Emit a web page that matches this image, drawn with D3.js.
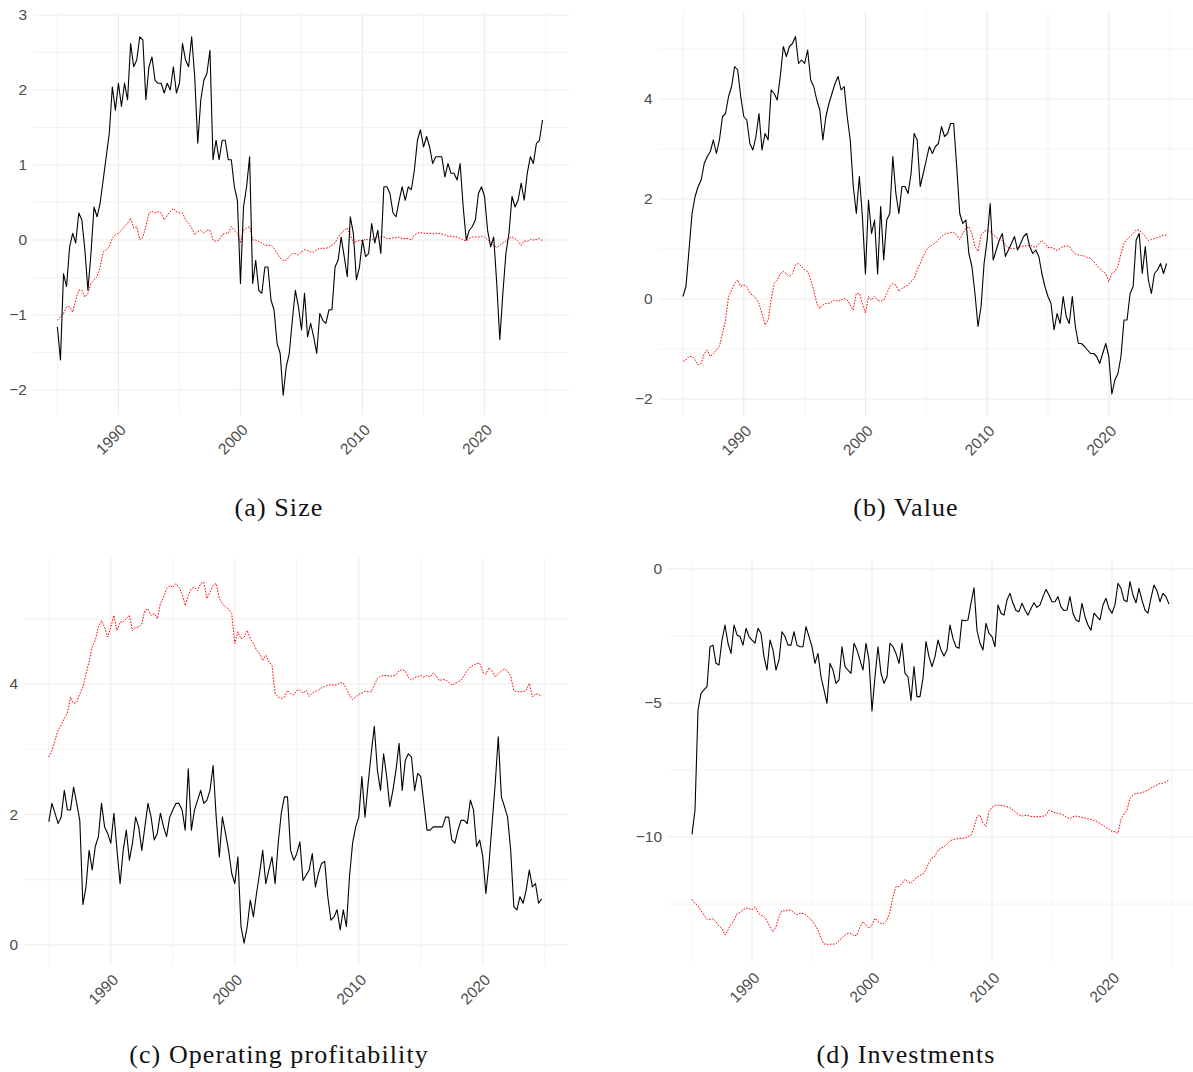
<!DOCTYPE html>
<html>
<head>
<meta charset="utf-8">
<script src="https://cdn.jsdelivr.net/npm/d3@7"></script>
<style>
  body { margin: 0; background: #fff; }
  svg { display: block; }
</style>
</head>
<body>
<svg id="chart" width="1193" height="1072"></svg>
<script>
// quarterly readings, 1985Q1 .. 2024Q4 (two years per row)
var startYear = 1985;
var stepYears = 0.25;
var xMajor = [1990, 2000, 2010, 2020];
var xDomain = [1983.0, 2026.92];

var sizeSolid = [
  -1.16, -1.60, -0.45, -0.62, -0.09, 0.09, -0.04, 0.36,
  0.27, -0.13, -0.67, -0.18, 0.44, 0.31, 0.49, 0.80,
  1.11, 1.42, 2.04, 1.73, 2.09, 1.78, 2.09, 1.87,
  2.62, 2.31, 2.40, 2.71, 2.67, 1.87, 2.31, 2.44,
  2.13, 2.09, 2.09, 1.96, 2.09, 2.00, 2.31, 1.96,
  2.09, 2.62, 2.40, 2.31, 2.71, 2.18, 1.29, 1.87,
  2.13, 2.22, 2.53, 1.07, 1.33, 1.07, 1.33, 1.33,
  1.07, 1.07, 0.71, 0.53, -0.58, 0.44, 0.71, 1.11,
  -0.58, -0.27, -0.67, -0.71, -0.36, -0.36, -0.80, -0.93,
  -1.38, -1.51, -2.07, -1.69, -1.51, -1.07, -0.67, -0.89,
  -1.20, -0.71, -1.29, -1.11, -1.29, -1.51, -0.98, -1.07,
  -1.11, -0.93, -0.93, -0.36, -0.27, 0.04, -0.22, -0.49,
  0.31, 0.09, -0.53, -0.36, 0.00, -0.22, -0.18, 0.22,
  -0.04, 0.13, -0.18, 0.71, 0.71, 0.62, 0.36, 0.31,
  0.53, 0.71, 0.53, 0.71, 0.67, 0.93, 1.33, 1.47,
  1.24, 1.38, 1.24, 1.02, 1.11, 1.11, 1.11, 0.84,
  1.02, 0.89, 0.89, 0.80, 1.02, 0.44, 0.00, 0.13,
  0.18, 0.27, 0.62, 0.71, 0.58, 0.13, -0.09, 0.04,
  -0.58, -1.33, -0.71, -0.18, 0.09, 0.58, 0.44, 0.53,
  0.76, 0.53, 0.89, 1.11, 1.02, 1.29, 1.33, 1.60
];

var sizeDotted = [
  -1.07, -1.02, -0.98, -0.89, -0.89, -0.96, -0.80, -0.67,
  -0.67, -0.76, -0.71, -0.58, -0.53, -0.49, -0.36, -0.16,
  -0.13, -0.09, 0.02, 0.07, 0.09, 0.13, 0.18, 0.22,
  0.29, 0.16, 0.18, 0.00, 0.04, 0.18, 0.36, 0.38,
  0.36, 0.38, 0.36, 0.27, 0.33, 0.38, 0.42, 0.38,
  0.36, 0.36, 0.27, 0.22, 0.16, 0.07, 0.11, 0.13,
  0.09, 0.13, 0.13, 0.00, -0.02, 0.00, 0.07, 0.09,
  0.09, 0.18, 0.13, 0.09, -0.04, 0.13, 0.16, 0.18,
  0.00, 0.00, -0.02, -0.04, -0.07, -0.07, -0.07, -0.11,
  -0.18, -0.24, -0.27, -0.27, -0.22, -0.18, -0.18, -0.20,
  -0.16, -0.13, -0.14, -0.16, -0.16, -0.13, -0.11, -0.11,
  -0.11, -0.10, -0.07, -0.04, 0.04, 0.09, 0.13, 0.16,
  0.07, -0.04, -0.02, 0.00, -0.01, 0.01, 0.00, 0.00,
  0.02, 0.04, 0.04, 0.04, 0.02, 0.02, 0.03, 0.03,
  0.04, 0.02, 0.02, 0.02, 0.00, 0.07, 0.09, 0.10,
  0.09, 0.09, 0.09, 0.08, 0.09, 0.09, 0.08, 0.07,
  0.05, 0.05, 0.04, 0.04, 0.02, 0.00, -0.01, 0.02,
  0.04, 0.04, 0.04, 0.05, 0.04, 0.00, -0.02, -0.07,
  -0.10, -0.07, -0.04, -0.02, 0.02, 0.04, 0.02, -0.02,
  -0.07, -0.01, -0.02, 0.01, 0.00, 0.01, 0.02, -0.01
];

var valueSolid = [
  0.05, 0.25, 0.98, 1.71, 2.05, 2.25, 2.38, 2.71,
  2.85, 2.95, 3.18, 2.91, 3.18, 3.65, 3.71, 4.05,
  4.25, 4.65, 4.58, 4.05, 3.65, 3.58, 3.11, 2.98,
  3.25, 3.71, 2.98, 3.31, 3.18, 4.18, 4.11, 3.98,
  4.45, 5.05, 4.85, 5.05, 5.11, 5.25, 4.71, 4.78,
  4.71, 4.98, 4.38, 4.25, 3.98, 3.78, 3.18, 3.65,
  3.91, 4.11, 4.31, 4.45, 4.18, 4.25, 3.65, 3.18,
  2.25, 1.71, 2.45, 1.65, 0.50, 1.98, 1.31, 1.58,
  0.50, 1.85, 0.78, 1.58, 1.71, 2.85, 2.11, 1.71,
  2.25, 2.25, 2.11, 2.51, 3.31, 3.18, 2.25, 2.51,
  2.78, 3.05, 2.91, 3.05, 3.11, 3.45, 3.25, 3.31,
  3.51, 3.51, 2.65, 1.71, 1.51, 1.58, 0.91, 0.65,
  0.11, -0.55, -0.15, 0.71, 1.18, 1.91, 0.78, 0.98,
  1.18, 1.31, 0.85, 0.98, 1.11, 1.25, 0.98, 1.11,
  1.25, 1.31, 1.05, 0.91, 0.98, 0.85, 0.51, 0.25,
  0.05, -0.09, -0.62, -0.29, -0.49, 0.05, -0.35, -0.49,
  0.05, -0.55, -0.89, -0.89, -0.95, -1.02, -1.09, -1.09,
  -1.15, -1.29, -1.09, -0.89, -1.15, -1.90, -1.62, -1.49,
  -1.15, -0.42, -0.42, 0.11, 0.25, 1.18, 1.31, 0.51,
  1.05, 0.38, 0.11, 0.51, 0.58, 0.71, 0.51, 0.71
];

var valueDotted = [
  -1.25, -1.22, -1.15, -1.15, -1.22, -1.32, -1.29, -1.09,
  -1.02, -1.15, -1.09, -1.02, -0.95, -0.69, -0.42, 0.05,
  0.18, 0.31, 0.38, 0.25, 0.28, 0.25, 0.11, 0.08,
  0.01, -0.09, -0.29, -0.52, -0.42, -0.02, 0.31, 0.38,
  0.51, 0.55, 0.51, 0.45, 0.51, 0.68, 0.71, 0.65,
  0.58, 0.55, 0.38, 0.18, -0.09, -0.19, -0.12, -0.09,
  -0.09, -0.05, -0.02, -0.05, -0.02, 0.01, -0.02, -0.12,
  -0.22, 0.11, 0.11, -0.09, -0.28, 0.05, -0.02, 0.05,
  -0.02, -0.05, -0.02, 0.11, 0.25, 0.31, 0.28, 0.15,
  0.21, 0.25, 0.28, 0.35, 0.41, 0.58, 0.71, 0.85,
  0.98, 1.05, 1.08, 1.13, 1.18, 1.25, 1.30, 1.31,
  1.33, 1.33, 1.28, 1.19, 1.31, 1.41, 1.45, 1.31,
  1.05, 0.95, 1.28, 1.35, 1.38, 1.35, 1.28, 1.23,
  1.19, 1.17, 1.08, 1.03, 1.01, 1.01, 1.03, 1.05,
  1.06, 1.06, 1.08, 1.05, 1.03, 1.11, 1.17, 1.11,
  1.03, 1.03, 1.01, 0.97, 1.01, 1.05, 1.06, 1.06,
  0.97, 0.90, 0.88, 0.87, 0.86, 0.83, 0.81, 0.75,
  0.68, 0.61, 0.55, 0.51, 0.35, 0.51, 0.55, 0.65,
  0.91, 1.11, 1.19, 1.25, 1.31, 1.38, 1.38, 1.31,
  1.25, 1.17, 1.19, 1.21, 1.23, 1.25, 1.28, 1.28
];

var profitSolid = [
  1.89, 2.17, 2.02, 1.86, 1.96, 2.37, 2.07, 2.07,
  2.42, 2.17, 1.91, 0.62, 0.89, 1.45, 1.15, 1.51,
  1.66, 2.17, 1.81, 1.71, 1.56, 2.02, 1.45, 0.94,
  1.45, 1.76, 1.30, 1.56, 1.96, 1.81, 1.45, 1.81,
  2.17, 1.96, 1.61, 1.71, 2.02, 1.81, 1.66, 1.96,
  2.07, 2.17, 2.17, 2.07, 1.76, 2.70, 1.76, 2.07,
  2.22, 2.37, 2.17, 2.22, 2.37, 2.75, 1.96, 1.35,
  1.96, 1.71, 1.45, 1.10, 0.94, 1.35, 0.28, 0.03,
  0.28, 0.69, 0.43, 0.79, 1.10, 1.45, 0.94, 1.15,
  1.35, 0.94, 1.56, 2.02, 2.27, 2.27, 1.45, 1.30,
  1.40, 1.58, 0.99, 1.07, 1.15, 1.40, 0.89, 1.10,
  1.25, 1.28, 0.74, 0.38, 0.43, 0.54, 0.23, 0.54,
  0.28, 1.05, 1.56, 1.81, 1.96, 2.58, 1.96, 2.47,
  2.93, 3.35, 2.68, 2.37, 2.93, 2.58, 2.12, 2.37,
  2.68, 3.09, 2.37, 2.83, 2.93, 2.88, 2.37, 2.63,
  2.58, 2.17, 1.76, 1.76, 1.81, 1.81, 1.81, 1.81,
  1.96, 1.96, 1.61, 1.56, 1.76, 1.91, 1.91, 1.86,
  2.22, 2.07, 1.51, 1.61, 1.35, 0.79, 1.25, 1.86,
  2.47, 3.19, 2.27, 2.12, 1.96, 1.45, 0.59, 0.54,
  0.74, 0.64, 0.84, 1.15, 0.89, 0.94, 0.64, 0.71
];

var profitDotted = [
  2.88, 2.98, 3.14, 3.29, 3.37, 3.47, 3.55, 3.80,
  3.70, 3.72, 3.85, 3.95, 4.16, 4.34, 4.57, 4.67,
  4.87, 4.97, 4.87, 4.72, 4.87, 5.05, 4.82, 4.95,
  4.95, 5.00, 5.05, 4.82, 4.87, 4.87, 4.92, 5.13,
  5.15, 5.05, 5.08, 5.00, 5.23, 5.33, 5.46, 5.51,
  5.48, 5.54, 5.48, 5.38, 5.20, 5.36, 5.46, 5.48,
  5.43, 5.54, 5.56, 5.31, 5.41, 5.51, 5.54, 5.31,
  5.23, 5.18, 5.15, 5.08, 4.62, 4.80, 4.69, 4.72,
  4.82, 4.69, 4.62, 4.52, 4.46, 4.36, 4.44, 4.34,
  4.29, 3.85, 3.80, 3.78, 3.80, 3.90, 3.85, 3.83,
  3.90, 3.91, 3.86, 3.90, 3.81, 3.86, 3.89, 3.91,
  3.94, 3.96, 3.98, 3.99, 3.98, 3.99, 4.02, 4.01,
  3.93, 3.83, 3.76, 3.80, 3.84, 3.86, 3.89, 3.88,
  3.88, 3.98, 4.08, 4.12, 4.13, 4.13, 4.12, 4.12,
  4.14, 4.20, 4.22, 4.20, 4.10, 4.06, 4.10, 4.11,
  4.13, 4.10, 4.13, 4.11, 4.17, 4.12, 4.05, 4.07,
  4.06, 4.03, 3.98, 4.01, 4.03, 4.06, 4.13, 4.21,
  4.26, 4.29, 4.31, 4.32, 4.18, 4.15, 4.25, 4.20,
  4.11, 4.15, 4.20, 4.23, 4.20, 4.12, 3.90, 3.88,
  3.88, 3.88, 3.90, 4.01, 3.80, 3.85, 3.84, 3.81
];

var investSolid = [
  -9.90, -9.00, -5.26, -4.64, -4.51, -4.39, -2.90, -2.84,
  -3.52, -3.58, -2.65, -2.09, -2.77, -3.15, -2.09, -2.46,
  -2.52, -2.84, -2.21, -2.52, -2.65, -2.77, -2.21, -2.40,
  -3.27, -3.77, -2.65, -3.02, -3.77, -3.40, -2.34, -2.52,
  -2.84, -2.84, -2.34, -2.84, -2.90, -2.90, -2.15, -2.52,
  -2.90, -3.52, -3.15, -4.02, -4.51, -5.01, -3.52, -3.77,
  -4.27, -4.14, -2.90, -3.64, -3.77, -3.89, -2.77, -3.02,
  -3.40, -3.77, -2.77, -3.40, -5.30, -4.02, -2.90, -3.89,
  -4.27, -4.02, -2.77, -2.90, -3.15, -3.52, -2.77, -3.89,
  -4.02, -4.90, -3.64, -4.76, -4.76, -4.08, -2.71, -3.27,
  -3.64, -3.27, -2.65, -3.02, -3.25, -3.02, -2.09, -2.59,
  -2.90, -2.96, -1.90, -1.93, -1.90, -1.28, -0.70, -2.28,
  -2.77, -3.02, -2.03, -2.40, -2.52, -2.90, -1.34, -1.65,
  -1.72, -1.16, -0.91, -1.28, -1.55, -1.59, -1.28, -1.53,
  -1.72, -1.47, -1.26, -1.43, -1.34, -1.03, -0.76, -0.97,
  -1.22, -1.22, -1.03, -1.41, -1.55, -1.53, -1.03, -1.65,
  -1.90, -1.97, -1.28, -1.78, -2.09, -2.28, -1.65, -1.78,
  -1.90, -1.34, -1.09, -1.47, -1.65, -1.34, -0.53, -0.72,
  -1.16, -1.22, -0.47, -0.97, -1.26, -0.72, -1.16, -1.53,
  -1.65, -1.09, -0.60, -0.81, -1.22, -0.91, -1.03, -1.31
];

var investDotted = [
  -12.33, -12.48, -12.57, -12.75, -12.91, -13.07, -13.07, -13.05,
  -13.16, -13.32, -13.41, -13.66, -13.47, -13.25, -13.12, -12.87,
  -12.81, -12.72, -12.66, -12.67, -12.72, -12.60, -12.82, -12.92,
  -12.97, -13.12, -13.35, -13.53, -13.35, -12.97, -12.75, -12.76,
  -12.72, -12.72, -12.82, -12.90, -12.85, -12.85, -12.91, -13.01,
  -13.12, -13.28, -13.47, -13.78, -13.99, -14.00, -14.00, -14.00,
  -13.98, -13.87, -13.77, -13.66, -13.59, -13.59, -13.69, -13.66,
  -13.35, -13.16, -13.28, -13.41, -13.28, -13.03, -13.16, -13.22,
  -13.22, -13.10, -12.79, -12.23, -11.85, -11.85, -11.73, -11.58,
  -11.67, -11.73, -11.60, -11.50, -11.43, -11.38, -11.21, -10.96,
  -10.78, -10.71, -10.49, -10.42, -10.36, -10.26, -10.14, -10.10,
  -10.07, -10.05, -10.05, -10.04, -9.99, -9.93, -9.64, -9.24,
  -9.18, -9.47, -9.61, -9.05, -8.89, -8.82, -8.81, -8.82,
  -8.84, -8.87, -8.91, -8.99, -9.09, -9.17, -9.22, -9.19,
  -9.20, -9.23, -9.24, -9.24, -9.24, -9.22, -9.18, -8.99,
  -9.04, -9.09, -9.12, -9.14, -9.19, -9.27, -9.32, -9.24,
  -9.22, -9.24, -9.27, -9.29, -9.32, -9.34, -9.38, -9.42,
  -9.49, -9.56, -9.64, -9.71, -9.80, -9.80, -9.86, -9.34,
  -9.14, -8.99, -8.56, -8.43, -8.37, -8.37, -8.35, -8.30,
  -8.25, -8.17, -8.12, -8.06, -8.00, -7.99, -7.94, -7.87
];

var panels = [
  { caption: "(a) Size", solid: sizeSolid, dotted: sizeDotted,
    yMajor: [-2, -1, 0, 1, 2, 3], yDomain: [-2.333, 3.027],
    box: { left: 33, right: 569, top: 13, bottom: 415 }, capX: 279, capY: 516 },
  { caption: "(b) Value", solid: valueSolid, dotted: valueDotted,
    yMajor: [-2, 0, 2, 4], yDomain: [-2.34, 5.76],
    box: { left: 658.6, right: 1193, top: 11, bottom: 416 }, capX: 906, capY: 516 },
  { caption: "(c) Operating profitability", solid: profitSolid, dotted: profitDotted,
    yMajor: [0, 2, 4], yDomain: [-0.306, 5.93],
    box: { left: 24, right: 568.6, top: 558, bottom: 965 }, capX: 279, capY: 1063 },
  { caption: "(d) Investments", solid: investSolid, dotted: investDotted,
    yMajor: [-10, -5, 0], yDomain: [-14.70, 0.336],
    box: { left: 668, right: 1195, top: 560, bottom: 963 }, capX: 906, capY: 1063 }
];

// midpoints between major ticks, plus one step either side, kept inside the domain
function minorTicks(major, domain) {
  var step = major[1] - major[0];
  var lo = Math.min(domain[0], domain[1]), hi = Math.max(domain[0], domain[1]);
  var out = [];
  for (var v = major[0] - step / 2; v <= major[major.length - 1] + step / 2 + 1e-9; v += step) {
    if (v >= lo && v <= hi) out.push(v);
  }
  return out;
}

var svg = d3.select("#chart");
svg.append("rect").attr("width", 1193).attr("height", 1072).attr("fill", "#fff");

panels.forEach(function (p) {
  var x = d3.scaleLinear().domain(xDomain).range([p.box.left, p.box.right]);
  var y = d3.scaleLinear().domain(p.yDomain).range([p.box.bottom, p.box.top]);
  var g = svg.append("g");

  // grid
  var grid = g.append("g").attr("class", "grid").attr("fill", "none").attr("stroke", "#ebebeb");
  grid.selectAll("line.ymin")
    .data(minorTicks(p.yMajor, p.yDomain))
    .enter().append("line")
    .attr("x1", p.box.left).attr("x2", p.box.right)
    .attr("y1", y).attr("y2", y)
    .attr("stroke-width", 0.6);
  grid.selectAll("line.xmin")
    .data(minorTicks(xMajor, xDomain))
    .enter().append("line")
    .attr("y1", p.box.top).attr("y2", p.box.bottom)
    .attr("x1", x).attr("x2", x)
    .attr("stroke-width", 0.6);
  grid.selectAll("line.ymaj")
    .data(p.yMajor)
    .enter().append("line")
    .attr("x1", p.box.left).attr("x2", p.box.right)
    .attr("y1", y).attr("y2", y)
    .attr("stroke-width", 1.1);
  grid.selectAll("line.xmaj")
    .data(xMajor)
    .enter().append("line")
    .attr("y1", p.box.top).attr("y2", p.box.bottom)
    .attr("x1", x).attr("x2", x)
    .attr("stroke-width", 1.1);

  // axes
  var yAxis = g.append("g")
    .attr("transform", "translate(" + p.box.left + ",0)")
    .call(d3.axisLeft(y).tickValues(p.yMajor).tickFormat(d3.format("d")).tickSize(0).tickPadding(6));
  var xAxis = g.append("g")
    .attr("transform", "translate(0," + p.box.bottom + ")")
    .call(d3.axisBottom(x).tickValues(xMajor).tickFormat(d3.format("d")).tickSize(0));
  [yAxis, xAxis].forEach(function (a) {
    a.select(".domain").remove();
    a.attr("font-family", "'Liberation Sans', Arial, sans-serif").attr("font-size", 15.5);
    a.selectAll("text").attr("fill", "#4d4d4d");
  });
  xAxis.selectAll("text")
    .attr("x", 0).attr("y", 0).attr("dy", 0)
    .attr("text-anchor", "end")
    .attr("transform", "translate(8,16) rotate(-45)");

  // series
  var line = d3.line()
    .x(function (d, i) { return x(startYear + i * stepYears); })
    .y(function (d) { return y(d); });
  g.append("path")
    .datum(p.dotted)
    .attr("d", line)
    .attr("fill", "none")
    .attr("stroke", "#ff0000")
    .attr("stroke-width", 1)
    .attr("stroke-dasharray", "1.6,1.4");
  g.append("path")
    .datum(p.solid)
    .attr("d", line)
    .attr("fill", "none")
    .attr("stroke", "#000")
    .attr("stroke-width", 1.1)
    .attr("stroke-linejoin", "round");

  // caption
  svg.append("text")
    .attr("x", p.capX).attr("y", p.capY)
    .attr("text-anchor", "middle")
    .attr("font-family", "'Liberation Serif', 'Times New Roman', serif")
    .attr("font-size", 26)
    .attr("letter-spacing", "1.1px")
    .attr("fill", "#111")
    .text(p.caption);
});
</script>
</body>
</html>
